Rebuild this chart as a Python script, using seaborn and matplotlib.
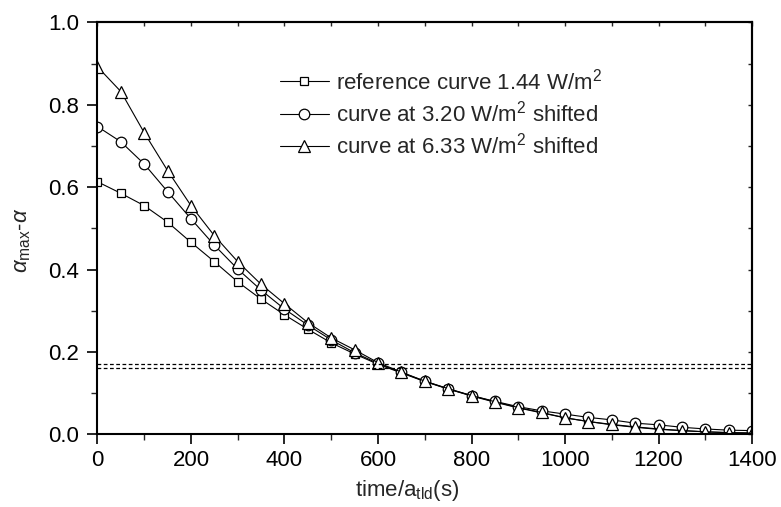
import numpy as np
import pandas as pd
import matplotlib
matplotlib.use("Agg")
import matplotlib.pyplot as plt
from matplotlib.ticker import MultipleLocator, FormatStrFormatter
import seaborn as sns

sns.set_style("ticks")
plt.rcParams['font.family'] = ['Liberation Sans', 'DejaVu Sans']
plt.rcParams['mathtext.fontset'] = 'custom'
plt.rcParams['mathtext.rm'] = 'Liberation Sans'
plt.rcParams['mathtext.it'] = 'Liberation Sans:italic'

time_s = [0, 50, 100, 150, 200, 250, 300, 350, 400, 450, 500, 550, 600, 650, 700,
          750, 800, 850, 900, 950, 1000, 1050, 1100, 1150, 1200, 1250, 1300, 1350, 1400]

ref_144 = [0.613, 0.585, 0.555, 0.515, 0.466, 0.419, 0.370, 0.328, 0.290, 0.255, 0.222,
           0.195, 0.170, 0.149, 0.128, 0.110, 0.093, 0.078, 0.064, 0.052, 0.040, 0.031,
           0.023, 0.017, 0.012, 0.009, 0.006, 0.004, 0.003]

shift_320 = [0.747, 0.710, 0.656, 0.589, 0.523, 0.459, 0.401, 0.350, 0.304, 0.265, 0.229,
             0.198, 0.172, 0.150, 0.129, 0.110, 0.094, 0.080, 0.067, 0.057, 0.049, 0.041,
             0.035, 0.027, 0.023, 0.017, 0.013, 0.010, 0.009]

shift_633 = [0.892, 0.832, 0.732, 0.640, 0.555, 0.482, 0.419, 0.364, 0.317, 0.271, 0.234,
             0.205, 0.174, 0.151, 0.129, 0.111, 0.094, 0.079, 0.065, 0.053, 0.040, 0.031,
             0.024, 0.018, 0.013, 0.009, 0.006, 0.004, 0.003]

labels = [r"reference curve 1.44 W/m$^2$",
          r"curve at 3.20 W/m$^2$ shifted",
          r"curve at 6.33 W/m$^2$ shifted"]
markers = ['s', 'o', '^']
msizes = [6.2, 7.6, 8.8]

threshold_lines = [0.170, 0.160]

fig = plt.figure(figsize=(7.81, 5.07), dpi=100)
ax = fig.add_axes([0.1248, 0.1434, 0.9629 - 0.1248, 0.956 - 0.1434])

for vals, lab, mk, ms in zip([ref_144, shift_320, shift_633], labels, markers, msizes):
    sns.lineplot(x=time_s, y=vals, ax=ax, color='black', linewidth=0.8,
                 marker=mk, markersize=ms, markerfacecolor='white',
                 markeredgecolor='black', markeredgewidth=0.9, label=lab)

for yv in threshold_lines:
    ax.axhline(yv, color='black', linestyle=(0, (3, 2)), linewidth=0.9)

ax.set_xlim(0, 1400)
ax.set_ylim(0, 1.0)
ax.xaxis.set_major_locator(MultipleLocator(200))
ax.xaxis.set_minor_locator(MultipleLocator(100))
ax.yaxis.set_major_locator(MultipleLocator(0.2))
ax.yaxis.set_minor_locator(MultipleLocator(0.1))
ax.yaxis.set_major_formatter(FormatStrFormatter('%.1f'))

ax.tick_params(axis='both', which='major', direction='out', length=7, width=1.2,
               labelsize=16, colors='black')
ax.tick_params(axis='both', which='minor', direction='out', length=4, width=1.0)
ax.tick_params(axis='y', which='major', pad=6)
ax.tick_params(axis='x', which='major', pad=4)
for sp in ax.spines.values():
    sp.set_linewidth(1.5)
    sp.set_color('black')

# small inward ticks on top and right
top = ax.secondary_xaxis('top')
top.xaxis.set_major_locator(MultipleLocator(200))
top.xaxis.set_minor_locator(MultipleLocator(100))
top.tick_params(which='both', direction='in', length=3, width=1.0, labeltop=False)
top.spines['top'].set_linewidth(1.5)
right = ax.secondary_yaxis('right')
right.yaxis.set_major_locator(MultipleLocator(0.2))
right.yaxis.set_minor_locator(MultipleLocator(0.1))
right.tick_params(which='both', direction='in', length=3, width=1.0, labelright=False)
right.spines['right'].set_linewidth(1.5)

ax.set_xlabel(r"time/a$_{\mathrm{tld}}$(s)", fontsize=16)
ax.xaxis.set_label_coords(0.473, -0.105)
ax.set_ylabel(r"$\alpha_{\mathrm{max}}$-$\alpha$", fontsize=16)
ax.yaxis.set_label_coords(-0.098, 0.47)

leg = ax.legend(loc='upper left', bbox_to_anchor=(0.265, 0.91), frameon=False,
                fontsize=16, handlelength=2.2, handletextpad=0.35, labelspacing=0.28,
                borderaxespad=0)

fig.savefig("out.png", dpi=100)
